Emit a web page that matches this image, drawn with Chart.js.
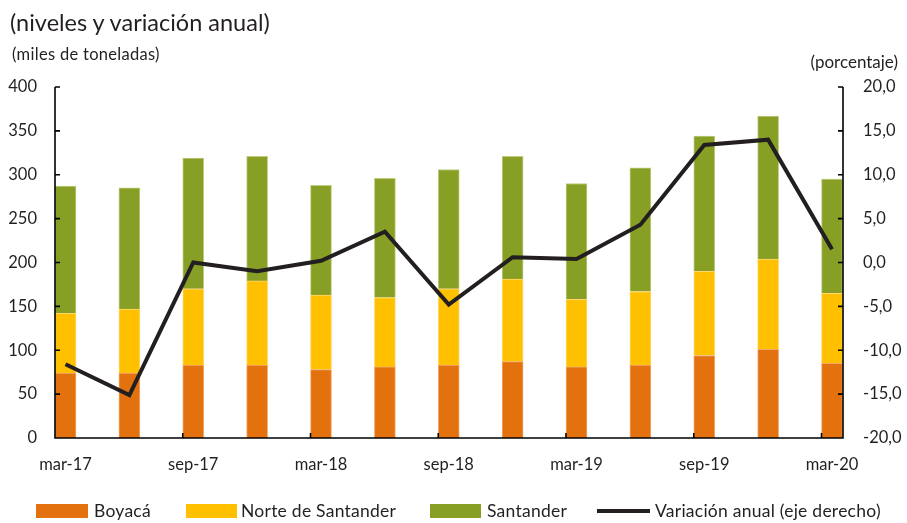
<!DOCTYPE html>
<html><head><meta charset="utf-8">
<script src="https://cdn.jsdelivr.net/npm/chart.js@4"></script>
<style>
html,body{margin:0;padding:0;background:#fff;}
#wrap{position:relative;width:907px;height:523px;overflow:hidden;font-family:Lato,"Open Sans",sans-serif;color:#231f20;}
canvas{position:absolute;left:0;top:0;}
.t{position:absolute;white-space:nowrap;line-height:1;}
.sw{position:absolute;}
.lg{font-size:17.5px;top:502px;letter-spacing:0.25px;}
</style></head><body>
<div id="wrap">
<canvas id="c" width="907" height="523"></canvas>
<div class="t" style="left:10px;top:11px;font-size:23.5px">(niveles y variación anual)</div>
<div class="t" style="left:12px;top:46px;font-size:16.5px;letter-spacing:0.3px">(miles de toneladas)</div>
<div class="t" style="right:9px;top:53px;font-size:17px">(porcentaje)</div>
<div class="sw" style="left:36px;top:504px;width:52px;height:14px;background:rgb(227,113,14)"></div>
<div class="t lg" style="left:94px">Boyacá</div>
<div class="sw" style="left:186px;top:504px;width:51px;height:14px;background:rgb(255,192,0)"></div>
<div class="t lg" style="left:241px">Norte de Santander</div>
<div class="sw" style="left:430px;top:504px;width:51px;height:14px;background:rgb(135,159,36)"></div>
<div class="t lg" style="left:487px">Santander</div>
<div class="sw" style="left:597px;top:509px;width:53px;height:4px;background:#231f20"></div>
<div class="t lg" style="left:655px">Variación anual (eje derecho)</div>
</div>
<script>
const categories = ['mar-17','jun-17','sep-17','dic-17','mar-18','jun-18','sep-18','dic-18','mar-19','jun-19','sep-19','dic-19','mar-20'];
const boyaca    = [74, 74, 83, 83, 78, 81, 83, 87, 81, 83, 94, 101, 85];
const norte     = [68, 73, 87, 96, 85, 79, 87, 94, 77, 84, 96, 103, 80];
const santander = [145, 138, 149, 142, 125, 136, 136, 140, 132, 141, 154, 163, 130];
const variacion = [-11.6, -15.1, 0.0, -1.0, 0.2, 3.5, -4.8, 0.6, 0.4, 4.3, 13.4, 14.0, 1.5];
const leftTicks = [0, 50, 100, 150, 200, 250, 300, 350, 400];
const rightTicks = [-20, -15, -10, -5, 0, 5, 10, 15, 20];
const labelIdx = [0, 2, 4, 6, 8, 10, 12];

const pts = arr => arr.map((v, i) => ({x: i, y: v}));
const FONT = {family: 'Lato, "Open Sans", sans-serif', size: 16.5};
const INK = '#231f20';
const BAR_W = 21;

const axesPlugin = {
  id: 'axesPlugin',
  afterDatasetsDraw(chart) {
    const {ctx, chartArea: a, scales} = chart;
    const {x, y, y1} = scales;
    ctx.save();
    ctx.strokeStyle = '#000';
    ctx.lineWidth = 1.6;
    ctx.beginPath();
    ctx.moveTo(a.left, a.top); ctx.lineTo(a.left, a.bottom); ctx.lineTo(a.right, a.bottom); ctx.lineTo(a.right, a.top);
    y.ticks.forEach(t => { const p = y.getPixelForValue(t.value); ctx.moveTo(a.left, p); ctx.lineTo(a.left + 5, p); });
    y1.ticks.forEach(t => { const p = y1.getPixelForValue(t.value); ctx.moveTo(a.right, p); ctx.lineTo(a.right - 5, p); });
    labelIdx.forEach(i => { const p = x.getPixelForValue(i) - BAR_W / 2; ctx.moveTo(p, a.bottom); ctx.lineTo(p, a.bottom - 5); });
    ctx.stroke();
    ctx.restore();
  }
};

new Chart(document.getElementById('c'), {
  type: 'bar',
  data: {
    datasets: [
      {type: 'line', label: 'Variación anual (eje derecho)', data: pts(variacion), yAxisID: 'y1', borderColor: INK, backgroundColor: INK, borderWidth: 4, pointRadius: 0, tension: 0, order: -1, borderJoinStyle: 'miter'},
      {label: 'Boyacá', data: pts(boyaca), backgroundColor: 'rgb(227,113,14)', borderColor: 'rgb(240,170,110)', borderWidth: 1, stack: 's', barThickness: BAR_W},
      {label: 'Norte de Santander', data: pts(norte), backgroundColor: 'rgb(255,192,0)', borderColor: 'rgb(255,215,110)', borderWidth: 1, stack: 's', barThickness: BAR_W},
      {label: 'Santander', data: pts(santander), backgroundColor: 'rgb(135,159,36)', borderColor: 'rgb(190,205,130)', borderWidth: 1, stack: 's', barThickness: BAR_W}
    ]
  },
  options: {
    responsive: false,
    animation: false,
    devicePixelRatio: 1,
    layout: {padding: {top: 87, bottom: 35, left: 0, right: 0}},
    plugins: {legend: {display: false}, tooltip: {enabled: false}, title: {display: false}},
    scales: {
      x: {
        type: 'linear', min: -0.1644, max: 12.172, offset: false,
        grid: {display: false, drawTicks: false, offset: false}, border: {display: false},
        afterBuildTicks: s => { s.ticks = labelIdx.map(v => ({value: v})); },
        afterFit: s => { s.height = 50; },
        ticks: {autoSkip: false, maxRotation: 0, padding: 17, color: INK, font: FONT, callback: v => categories[v]}
      },
      y: {
        stacked: true, min: 0, max: 400,
        grid: {display: false, drawTicks: false}, border: {display: false},
        afterBuildTicks: s => { s.ticks = leftTicks.map(v => ({value: v})); },
        afterFit: s => { s.width = 55; },
        ticks: {padding: 18, color: INK, font: FONT, callback: v => String(v)}
      },
      y1: {
        position: 'right', min: -20, max: 20,
        grid: {display: false, drawTicks: false}, border: {display: false},
        afterBuildTicks: s => { s.ticks = rightTicks.map(v => ({value: v})); },
        afterFit: s => { s.width = 64; },
        ticks: {padding: 20, color: INK, font: FONT, callback: v => v.toFixed(1).replace('.', ',')}
      }
    }
  },
  plugins: [axesPlugin]
});
</script>
</body></html>
